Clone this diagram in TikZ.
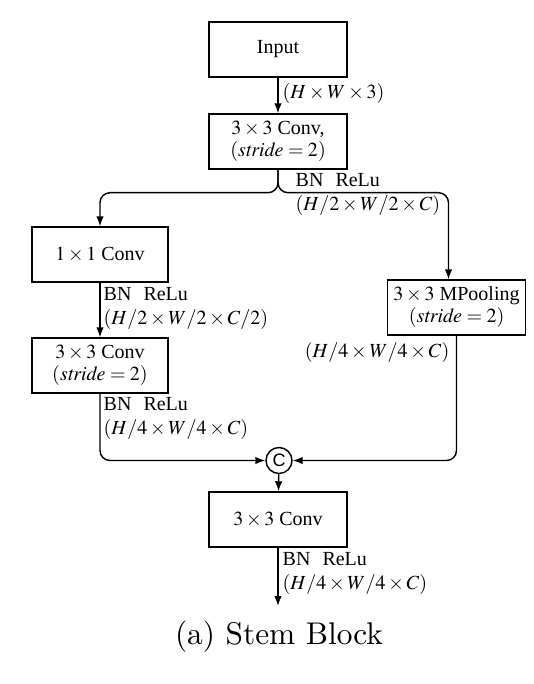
\documentclass[tikz,border=0pt]{standalone}
\usepackage{mathptmx}
\usepackage[no-math]{fontspec}
\setmainfont{Latin Modern Roman}
\newfontfamily\tms{Liberation Serif}
\newfontfamily\hlv{Liberation Sans}
\newfontfamily\capfont{lmroman10-regular}[Extension=.otf]
\usetikzlibrary{arrows.meta}

\begin{document}
\begin{tikzpicture}[x=0.5pt,y=-0.5pt,line width=0.72pt,
  >={Latex[length=5pt,width=3.8pt]},
  blk/.style={draw,minimum width=69pt,minimum height=27.5pt,inner sep=0pt,
    align=center,font=\tms\fontsize{10}{11}\selectfont},
  lbl/.style={align=left,inner sep=1pt,font=\tms\fontsize{10}{12}\selectfont}]
 \useasboundingbox (0,0) rectangle (534,684);
 % boxes
 \node[blk] (inp) at (278,49.5) {Input};
 \node[blk] (stem) at (278,141.5) {$3\times3$ Conv,\\$(\mathit{stride}=2)$};
 \node[blk,minimum width=68pt] (pw) at (100,254.5) {$1\times1$ Conv};
 \node[blk,minimum width=68pt] (dw) at (100,365.5) {$3\times3$ Conv\\$(\mathit{stride}=2)$};
 \node[blk] (pool) at (456.5,307.5) {$3\times3$ MPooling\\$(\mathit{stride}=2)$};
 \node[draw,circle,minimum size=13pt,inner sep=0pt,font=\hlv\small] (cat) at (279,460.5) {C};
 \node[blk] (fuse) at (278,519.5) {$3\times3$ Conv};
 \coordinate (out) at (278,606);
 % connectors
 \draw[->] (inp) -- (stem);
 \draw[->,rounded corners=5pt] (stem.south) -- ++(0,23) -| (pw.north);
 \draw[->,rounded corners=5pt] (stem.south) -- ++(0,23) -| ([xshift=-4pt]pool.north);
 \draw[->] (pw) -- (dw);
 \draw[->,rounded corners=5pt] (dw.south) |- (cat.west);
 \draw[->,rounded corners=5pt] (pool.south) |- (cat.east);
 \draw[->] (cat) -- (fuse);
 \draw[->] (fuse) -- (out);
 % labels
 \node[lbl,anchor=west] (l0) at (280,94) {$(H\times W\times3)$};
 \node[lbl,anchor=west] (l1) at (293,194) {BN\hspace{.6em}ReLu\\$(H/2\times W/2\times C)$};
 \node[lbl,anchor=west] (l2) at (101,308.5) {BN\hspace{.6em}ReLu\\$(H/2\times W/2\times C/2)$};
 \node[lbl,anchor=west] (l3) at (101,418.5) {BN\hspace{.6em}ReLu\\$(H/4\times W/4\times C)$};
 \node[lbl,anchor=east] (l4) at (452,352) {$(H/4\times W/4\times C)$};
 \node[lbl,anchor=west] (l5) at (280,573) {BN\hspace{.6em}ReLu\\$(H/4\times W/4\times C)$};
 \node (cap) at (279,637) {\capfont\fontsize{15.7}{19}\selectfont (a) Stem Block};
\end{tikzpicture}
\end{document}
